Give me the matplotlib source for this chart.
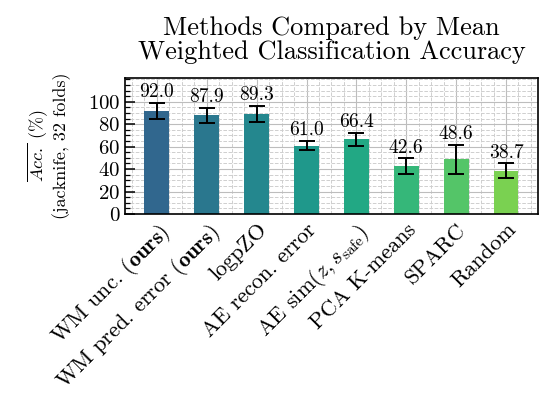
import numpy as np
import matplotlib
matplotlib.use("Agg")
import matplotlib.pyplot as plt
from matplotlib.ticker import MultipleLocator, AutoMinorLocator

plt.rcParams["font.family"] = "cmr10"
plt.rcParams["mathtext.fontset"] = "cm"
plt.rcParams["axes.formatter.use_mathtext"] = True

methods = [
    r"WM unc. ($\mathbf{ours}$)",
    r"WM pred. error ($\mathbf{ours}$)",
    "logpZO",
    "AE recon. error",
    r"AE sim($z, s_\mathrm{safe}$)",
    "PCA K-means",
    "SPARC",
    "Random",
]
mean_acc = [92.0, 87.9, 89.3, 61.0, 66.4, 42.6, 48.6, 38.7]
err_acc = [7.0, 6.5, 7.0, 4.2, 6.0, 7.0, 13.0, 6.5]
y_ticks = [0, 20, 40, 60, 80, 100]

colors = plt.cm.viridis(np.linspace(0.33, 0.80, len(methods)))

fig = plt.figure(figsize=(5.39, 4.03), dpi=100)
ax = fig.add_axes([0.232, 0.469, 0.766, 0.337])

x = np.arange(len(methods))
ax.bar(x, mean_acc, width=0.5, color=colors, zorder=2)
ax.errorbar(x, mean_acc, yerr=err_acc, fmt="none", ecolor="black",
            elinewidth=1.4, capsize=6, capthick=1.4, zorder=3)

for xi, m, e in zip(x, mean_acc, err_acc):
    ax.text(xi, m + e + 1.5, f"{m:.1f}", ha="center", va="bottom", fontsize=14)

ax.set_xlim(-0.64, 7.64)
ax.set_ylim(0, 121)
ax.set_xticks(x)
ax.set_xticklabels(methods, rotation=45, ha="right", rotation_mode="anchor",
                   fontsize=16)
ax.set_yticks(y_ticks)
ax.yaxis.set_minor_locator(MultipleLocator(5))
ax.xaxis.set_minor_locator(AutoMinorLocator(4))
ax.tick_params(axis="y", which="major", direction="in", length=7, width=1.1,
               labelsize=15, right=False)
ax.tick_params(axis="y", which="minor", direction="in", length=3.5, width=0.9)
ax.tick_params(axis="x", which="both", length=0, pad=4)

ax.set_axisbelow(True)
ax.grid(which="major", color="#bdbdbd", linewidth=0.8, linestyle="-")
ax.grid(which="minor", color="#cfcfcf", linewidth=0.7, linestyle="--")
for s in ax.spines.values():
    s.set_linewidth(1.2)

ax.set_ylabel(r"$\overline{Acc.}$ (%)" + "\n(jacknife, 32 folds)", fontsize=13,
              labelpad=12, linespacing=1.1)
ax.set_title("Methods Compared by Mean\nWeighted Classification Accuracy",
             fontsize=19, pad=14, linespacing=1.0)

fig.savefig("out.png", dpi=100)
